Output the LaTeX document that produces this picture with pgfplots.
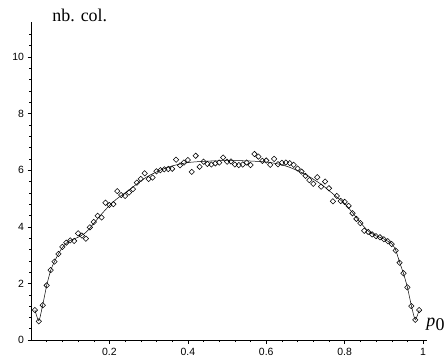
\documentclass[border=0pt]{standalone}
\usepackage{pgfplots}
\pgfplotsset{compat=1.18}
\usepackage{fontspec}
\setmainfont{Liberation Serif}
\setsansfont{Liberation Sans}
\begin{document}
\begin{tikzpicture}[x=1bp,y=1bp]
\useasboundingbox (0,0) rectangle (445,360);
\begin{axis}[
  at={(31bp,20bp)}, anchor=south west,
  scale only axis, width=396bp, height=318.4bp,
  xmin=0, xmax=1.01, ymin=0, ymax=11.25,
  enlargelimits=false,
  axis lines=left, axis line style={-, line width=0.5pt},
  xtick={0.2,0.4,0.6,0.8,1}, xticklabels={0.2,0.4,0.6,0.8,1},
  ytick={0,2,4,6,8,10},
  minor xtick={0.04,0.08,0.12,0.16,0.24,0.28,0.32,0.36,0.44,0.48,0.52,0.56,0.64,0.68,0.72,0.76,0.84,0.88,0.92,0.96},
  minor ytick={0.4,0.8,1.2,1.6,2.4,2.8,3.2,3.6,4.4,4.8,5.2,5.6,6.4,6.8,7.2,7.6,8.4,8.8,9.2,9.6,10.4,10.8},
  tick align=outside,
  major tick length=3.5bp, minor tick length=2bp,
  tick style={black, line width=0.4pt},
  ticklabel style={font=\sffamily\fontsize{10.5}{11}\selectfont},
  xticklabel style={yshift=-1bp},
  /pgf/number format/assume math mode=true,
  clip=false,
]
\addplot[black, line width=0.5pt, smooth, tension=0.4] coordinates {
(0.01,1.06) (0.02,0.68) (0.03,1.25) (0.04,1.93) (0.05,2.45) (0.06,2.78) (0.07,3.04) (0.08,3.27) (0.09,3.42) (0.10,3.52) (0.12,3.63) (0.14,3.80) (0.16,4.12) (0.18,4.45) (0.20,4.75) (0.22,5.0) (0.25,5.30) (0.28,5.62) (0.30,5.80) (0.33,6.00) (0.36,6.15) (0.40,6.27) (0.45,6.32) (0.50,6.34) (0.55,6.33) (0.60,6.29) (0.63,6.22) (0.66,6.10) (0.70,5.85) (0.74,5.50) (0.78,5.05) (0.80,4.82) (0.82,4.50) (0.84,4.15) (0.86,3.85) (0.88,3.68) (0.90,3.57) (0.92,3.40) (0.93,3.18) (0.94,2.75) (0.95,2.35) (0.96,1.86) (0.97,1.22) (0.98,0.72) (0.99,1.06)
};
\addplot[only marks, mark=square, mark size=1.9bp, mark options={rotate=45, line width=0.55pt, black}] coordinates {
(0.01,1.06) (0.02,0.66) (0.03,1.23) (0.04,1.93) (0.05,2.47) (0.06,2.77) (0.07,3.04) (0.08,3.29) (0.09,3.44) (0.10,3.52)
(0.11,3.50) (0.12,3.77) (0.13,3.69) (0.14,3.58) (0.15,3.98) (0.16,4.17) (0.17,4.39) (0.18,4.33) (0.19,4.85) (0.20,4.77)
(0.21,4.80) (0.22,5.26) (0.23,5.12) (0.24,5.09) (0.25,5.21) (0.26,5.33) (0.27,5.56) (0.28,5.69) (0.29,5.89) (0.30,5.69)
(0.31,5.74) (0.32,5.96) (0.33,6.00) (0.34,6.03) (0.35,6.04) (0.36,6.05) (0.37,6.37) (0.38,6.17) (0.39,6.27) (0.40,6.36)
(0.41,5.94) (0.42,6.51) (0.43,6.12) (0.44,6.30) (0.45,6.22) (0.46,6.20) (0.47,6.24) (0.48,6.27) (0.49,6.45) (0.50,6.30)
(0.51,6.31) (0.52,6.20) (0.53,6.18) (0.54,6.20) (0.55,6.27) (0.56,6.18) (0.57,6.57) (0.58,6.48) (0.59,6.33) (0.60,6.34)
(0.61,6.19) (0.62,6.40) (0.63,6.21) (0.64,6.26) (0.65,6.27) (0.66,6.25) (0.67,6.19) (0.68,6.06) (0.69,5.95) (0.70,5.80)
(0.71,5.65) (0.72,5.52) (0.73,5.75) (0.74,5.42) (0.75,5.60) (0.76,5.36) (0.77,4.90) (0.78,5.09) (0.79,4.91) (0.80,4.88)
(0.81,4.74) (0.82,4.48) (0.83,4.28) (0.84,4.13) (0.85,3.86) (0.86,3.82) (0.87,3.73) (0.88,3.67) (0.89,3.63) (0.90,3.56)
(0.91,3.49) (0.92,3.39) (0.93,3.16) (0.94,2.73) (0.95,2.36) (0.96,1.86) (0.97,1.20) (0.98,0.71) (0.99,1.06)
};
\node[anchor=base west, inner sep=0pt, font=\fontsize{18}{18}\selectfont] at (axis cs:0.054,11.25) {nb. col.};
\node[anchor=base west, inner sep=0pt, font=\fontsize{18}{18}\selectfont] at (axis cs:1.008,0.47) {\textit{p}\kern0.3bp\raisebox{-4bp}{0}};
\end{axis}
\end{tikzpicture}
\end{document}
